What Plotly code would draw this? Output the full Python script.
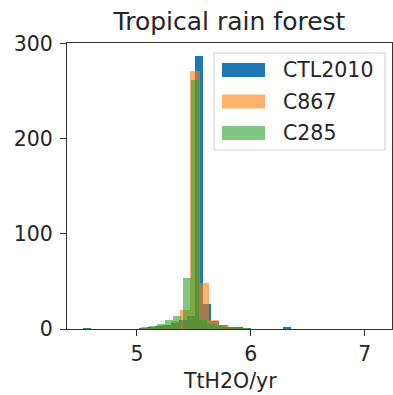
import plotly.graph_objects as go

# Histogram counts per series (bin centres in TtH2O/yr)
ctl2010_centers = [4.565, 5.055, 5.125, 5.195, 5.265, 5.335, 5.405, 5.475, 5.545, 5.615, 5.685, 5.755, 5.825, 5.895, 5.965, 6.315]
ctl2010_counts = [1, 1, 2, 3, 4, 6, 9, 14, 287, 26, 8, 4, 2, 2, 1, 2]

c867_centers = [5.0825, 5.1675, 5.2525, 5.3375, 5.4225, 5.5075, 5.5925, 5.6775, 5.7625, 5.8475, 5.9325]
c867_counts = [1, 2, 4, 8, 20, 272, 48, 9, 4, 2, 1]

c285_centers = [4.56, 5.07, 5.14, 5.21, 5.28, 5.35, 5.44, 5.51, 5.58, 5.65, 5.72, 5.79, 5.86, 5.93]
c285_counts = [1, 2, 3, 5, 10, 14, 54, 262, 10, 5, 3, 2, 2, 1]

series_names = ["CTL2010", "C867", "C285"]
colors = ["#1f77b4", "#ff7f0e", "#2ca02c"]
opacities = [1.0, 0.6, 0.6]
bin_widths = [0.07, 0.085, 0.07]

x_ticks = [5, 6, 7]
y_ticks = [0, 100, 200, 300]

W, H = 393, 395
L, R, T, B = 67, 392, 43, 329  # plot area in pixels
TEXT = "#262626"
font = "DejaVu Sans, sans-serif"


def px_x(px):
    return (px - L) / (R - L)


def px_y(py):
    return (B - py) / (B - T)


fig = go.Figure()
for name, cx, cy, col, op, bw in zip(
    series_names,
    [ctl2010_centers, c867_centers, c285_centers],
    [ctl2010_counts, c867_counts, c285_counts],
    colors, opacities, bin_widths,
):
    fig.add_trace(go.Bar(
        x=cx, y=cy, width=[bw] * len(cx), name=name,
        marker=dict(color=col, line=dict(width=0)), opacity=op,
        showlegend=False,
    ))

# Legend box with patches
shapes = [dict(
    type="rect", xref="paper", yref="paper",
    x0=px_x(214), x1=px_x(385), y0=px_y(150), y1=px_y(53),
    line=dict(color="#d0d0d0", width=1), fillcolor="rgba(255,255,255,0.8)", layer="above",
)]
annotations = []
for i, (name, col, op) in enumerate(zip(series_names, colors, opacities)):
    cy = 70 + i * 31.5
    shapes.append(dict(
        type="rect", xref="paper", yref="paper",
        x0=px_x(222), x1=px_x(265), y0=px_y(cy + 7), y1=px_y(cy - 7),
        line=dict(width=0), fillcolor=col, opacity=op, layer="above",
    ))
    annotations.append(dict(
        text=name, xref="paper", yref="paper", x=px_x(281), y=px_y(cy),
        xanchor="left", yanchor="middle", showarrow=False,
        font=dict(family=font, size=20.5, color=TEXT),
    ))

# x-axis title
annotations.append(dict(
    text="TtH2O/yr", xref="paper", yref="paper", x=0.5, y=px_y(381),
    xanchor="center", yanchor="middle", showarrow=False,
    font=dict(family=font, size=20.5, color=TEXT),
))

fig.update_layout(
    width=W, height=H,
    margin=dict(l=L, r=W - R, t=T, b=H - B),
    paper_bgcolor="white", plot_bgcolor="white",
    barmode="overlay", bargap=0,
    title=dict(text="Tropical rain forest", x=(L + (R - L) / 2) / W,
               xanchor="center", y=1 - 21 / H, yanchor="middle",
               font=dict(family=font, size=25, color=TEXT)),
    shapes=shapes, annotations=annotations,
    xaxis=dict(
        range=[4.386, 7.24], tickvals=x_ticks, ticktext=[str(v) for v in x_ticks],
        showgrid=False, zeroline=False, showline=True, linecolor="#333", linewidth=1,
        mirror=True, ticks="outside", ticklen=6, tickcolor="#333",
        tickfont=dict(family=font, size=20.5, color=TEXT),
    ),
    yaxis=dict(
        range=[0, 301], tickvals=y_ticks, ticktext=[str(v) for v in y_ticks],
        showgrid=False, zeroline=False, showline=True, linecolor="#333", linewidth=1,
        mirror=True, ticks="outside", ticklen=6, tickcolor="#333",
        ticklabelstandoff=3,
        tickfont=dict(family=font, size=20.5, color=TEXT),
    ),
)

fig.write_html("out.html")
